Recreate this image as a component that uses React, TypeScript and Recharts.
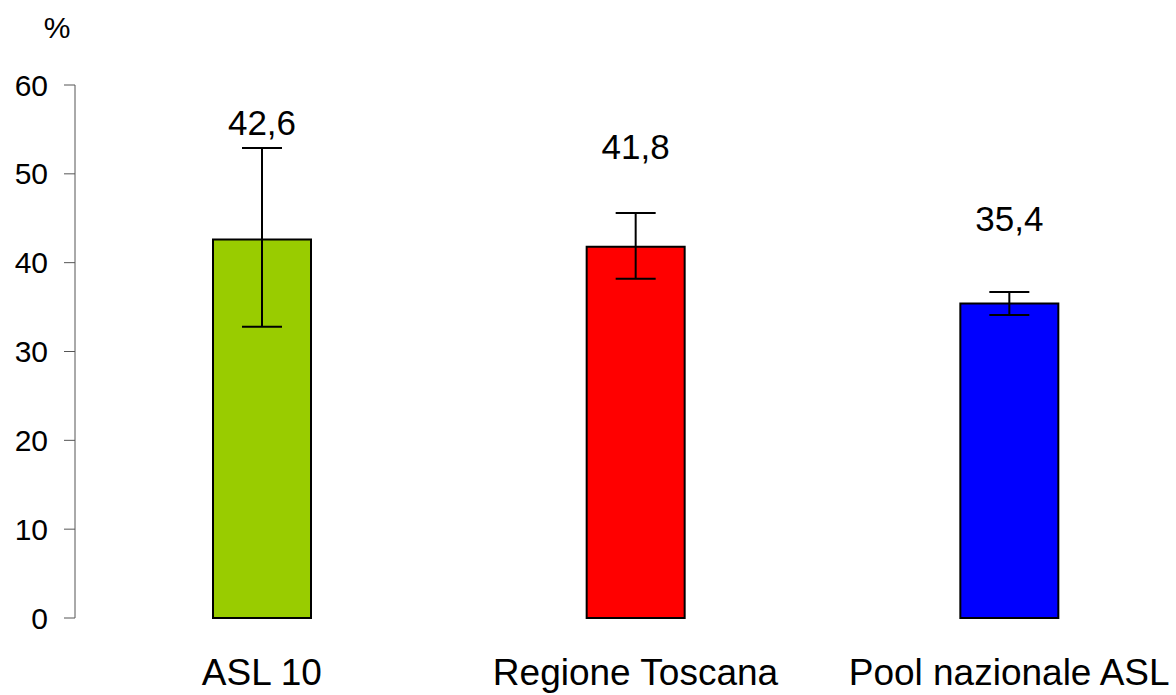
import { Bar, BarChart, Cell, ErrorBar, LabelList, XAxis, YAxis } from "recharts";

const categories = ["ASL 10", "Regione Toscana", "Pool nazionale ASL"];
const values = [42.6, 41.8, 35.4];
const ciLow = [32.8, 38.2, 34.1];
const ciHigh = [52.9, 45.6, 36.7];
const colors = ["#99CC00", "#FF0000", "#0000FF"];
const yTicks = [0, 10, 20, 30, 40, 50, 60];

const data = categories.map((name, i) => ({
    name,
    value: values[i],
    err: [values[i] - ciLow[i], ciHigh[i] - values[i]],
}));

const FONT = "'Liberation Sans', Arial, sans-serif";

function renderValueLabel(props: any) {
    const { x, y, width, height, value, index } = props;
    const h = Number(height);
    const bottom = Number(y) + h;
    const cx = Number(x) + Number(width) / 2;
    // keep the label clear of the top whisker
    const errTop = bottom - (ciHigh[index] / values[index]) * h;
    const cy = Math.min(Number(y) - 0.27 * h, errTop - 26);
    return (
        <text x={cx} y={cy} textAnchor="middle" dominantBaseline="central"
              fontFamily={FONT} fontSize={35} fill="#000">
            {String(value).replace(".", ",")}
        </text>
    );
}

function renderPercent(props: any) {
    const { viewBox } = props;
    return (
        <text x={viewBox.x + viewBox.width - 18} y={viewBox.y - 58} textAnchor="middle"
              dominantBaseline="central" fontFamily={FONT} fontSize={30} fill="#000">
            %
        </text>
    );
}

export default function App() {
    return (
        <div style={{ position: "absolute", left: 0, top: 0, width: 1176, height: 695, overflow: "hidden", background: "#fff" }}>
            <BarChart width={1196} height={695} data={data}
                      margin={{ top: 85, right: 0, left: 0, bottom: 0 }}>
                <XAxis dataKey="name" height={77} axisLine={false} tickLine={false}
                       tickSize={0} tickMargin={41} interval={0}
                       tick={{ fontFamily: FONT, fontSize: 37, fill: "#000" }} />
                <YAxis width={75} domain={[0, 60]} ticks={yTicks} interval={0}
                       tickSize={11} tickMargin={16}
                       axisLine={{ stroke: "#555", strokeWidth: 1 }}
                       tickLine={{ stroke: "#555", strokeWidth: 1 }}
                       tick={{ fontFamily: FONT, fontSize: 30, fill: "#000" }}
                       label={{ content: renderPercent }} />
                <Bar dataKey="value" barSize={98} stroke="#000" strokeWidth={2} isAnimationActive={false}>
                    {data.map((d, i) => (
                        <Cell key={d.name} fill={colors[i]} />
                    ))}
                    <ErrorBar dataKey="err" width={20} stroke="#000" strokeWidth={2} direction="y" />
                    <LabelList dataKey="value" content={renderValueLabel} />
                </Bar>
            </BarChart>
        </div>
    );
}
